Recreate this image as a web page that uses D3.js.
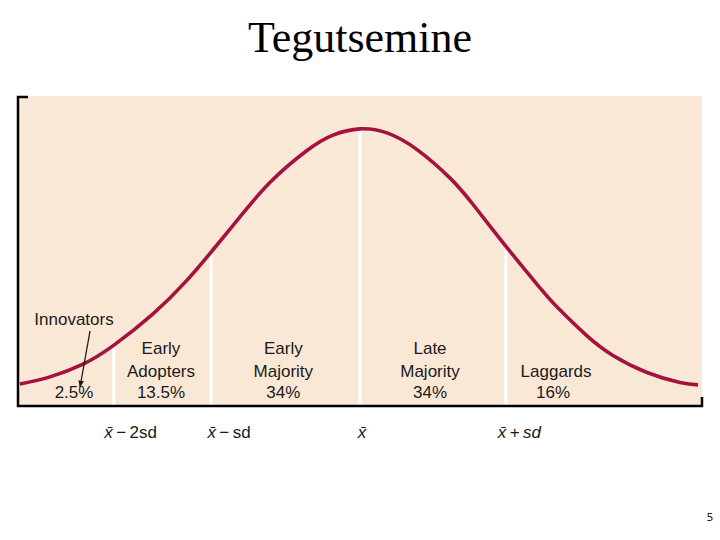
<!DOCTYPE html>
<html>
<head>
<meta charset="utf-8">
<script src="https://cdn.jsdelivr.net/npm/d3@7"></script>
<style>
  html, body { margin: 0; padding: 0; background: #ffffff; }
  svg { display: block; }
</style>
</head>
<body>
<svg id="chart" width="720" height="540"></svg>
<script>
// ---- data (x in standard-deviation units, y as relative curve height) ----
const curveX = [-2.307, -2.103, -1.879, -1.676, -1.404, -1.173, -1.004, -0.814, -0.611, -0.360, -0.183, 0.000,
                0.183, 0.387, 0.611, 0.767, 0.997, 1.221, 1.337, 1.540, 1.716, 1.947, 2.171, 2.293];
const curveY = [0.071, 0.094, 0.135, 0.194, 0.297, 0.406, 0.500, 0.610, 0.721, 0.824, 0.874, 0.894,
                0.881, 0.827, 0.735, 0.650, 0.511, 0.381, 0.319, 0.226, 0.163, 0.108, 0.076, 0.068];
const boundaries = [-1.67, -1.01, 0.00, 0.99];
const categories = [["Early", "Adopters"], ["Early", "Majority"], ["Late", "Majority"], ["Laggards"]];
const categoryX = [-1.35, -0.52, 0.475, 1.33];
const shares = ["13.5%", "34%", "34%", "16%"];
const shareX = [-1.35, -0.52, 0.475, 1.31];
const innovatorsLabel = "Innovators";
const innovatorsShare = "2.5%";
const innovatorsX = -1.94;
const tickLabels = [["\u2212\u20092sd", false], ["\u2212\u2009sd", false], ["", false], ["+\u2009", true]];
const tickX = [-1.735, -1.035, -0.015, 0.935];
const title = "Tegutsemine";
const pageNumber = "5";

// ---- layout ----
const svg = d3.select("#chart");
const panel = {left: 18, right: 702, top: 96, bottom: 406};
const x = d3.scaleLinear().domain([-2.32, 2.32]).range([panel.left, panel.right]);
const y = d3.scaleLinear().domain([0, 1]).range([panel.bottom, panel.top]);
const curveColor = "#a5123f";
const sans = "'Liberation Sans', Arial, Helvetica, sans-serif";

// title
svg.append("text")
  .attr("x", 360).attr("y", 52)
  .attr("text-anchor", "middle")
  .attr("font-family", "'Liberation Serif', 'Times New Roman', serif")
  .attr("font-size", 44)
  .attr("textLength", 224).attr("lengthAdjust", "spacingAndGlyphs")
  .attr("fill", "#000")
  .text(title);

// panel background
svg.append("rect")
  .attr("x", panel.left).attr("y", panel.top)
  .attr("width", panel.right - panel.left).attr("height", panel.bottom - panel.top)
  .attr("fill", "#fae8d7");

const pts = curveX.map((v, i) => [v, curveY[i]]);
const line = d3.line().x(d => x(d[0])).y(d => y(d[1])).curve(d3.curveNatural);

const curvePath = svg.append("path").datum(pts)
  .attr("d", line)
  .attr("fill", "none")
  .attr("stroke", "none");

// curve height at a given pixel x, sampled from the rendered path
function curveYAtPx(px) {
  const node = curvePath.node();
  const len = node.getTotalLength();
  let lo = 0, hi = len;
  for (let k = 0; k < 40; k++) {
    const mid = (lo + hi) / 2;
    if (node.getPointAtLength(mid).x < px) lo = mid; else hi = mid;
  }
  return node.getPointAtLength((lo + hi) / 2).y;
}

// white boundary lines from curve down to base
svg.append("g").selectAll("line").data(boundaries).join("line")
  .attr("x1", d => x(d)).attr("x2", d => x(d))
  .attr("y1", d => curveYAtPx(x(d))).attr("y2", panel.bottom)
  .attr("stroke", "#ffffff").attr("stroke-width", 3);

// visible curve
svg.append("path").datum(pts)
  .attr("d", line)
  .attr("fill", "none")
  .attr("stroke", curveColor)
  .attr("stroke-width", 3.6)
  .attr("stroke-linecap", "butt");

// axes frame
svg.append("path")
  .attr("d", `M${panel.left + 10},${panel.top + 1} H${panel.left} V${panel.bottom} H${panel.right} V${panel.bottom - 9}`)
  .attr("fill", "none").attr("stroke", "#000")
  .attr("stroke-width", 2.5);

// category labels
const labels = svg.append("g").attr("font-family", sans).attr("font-size", 17).attr("fill", "#1a1a1a").attr("text-anchor", "middle");
categories.forEach((lines, i) => {
  const t = labels.append("text").attr("x", x(categoryX[i])).attr("y", 377 - (lines.length - 1) * 23);
  lines.forEach((s, j) => t.append("tspan").attr("x", x(categoryX[i])).attr("dy", j === 0 ? 0 : 23).text(s));
  labels.append("text").attr("x", x(shareX[i])).attr("y", 398).text(shares[i]);
});
labels.append("text").attr("x", x(innovatorsX)).attr("y", 325).text(innovatorsLabel);
labels.append("text").attr("x", x(innovatorsX)).attr("y", 398).text(innovatorsShare);

// innovators arrow
svg.append("defs").append("marker")
  .attr("id", "arrow").attr("viewBox", "0 0 10 10").attr("refX", 9).attr("refY", 5)
  .attr("markerWidth", 7).attr("markerHeight", 7).attr("orient", "auto")
  .attr("markerUnits", "userSpaceOnUse")
  .append("path").attr("d", "M0,1 L10,5 L0,9 Z").attr("fill", "#1a1a1a");
svg.append("line")
  .attr("x1", x(innovatorsX) + 16).attr("y1", 331)
  .attr("x2", x(innovatorsX) + 6).attr("y2", 387)
  .attr("stroke", "#1a1a1a").attr("stroke-width", 1.3)
  .attr("marker-end", "url(#arrow)");

// x-axis labels (x-bar notation)
const tickG = svg.append("g").attr("font-family", sans).attr("font-size", 17).attr("fill", "#1a1a1a");
tickLabels.forEach((d, i) => {
  const t = tickG.append("text").attr("x", x(tickX[i])).attr("y", 438);
  t.append("tspan").attr("font-style", "italic").text("x\u0304");
  if (d[0]) {
    t.append("tspan").text("\u2009" + d[0]);
  }
  if (d[1]) {
    t.append("tspan").attr("font-style", "italic").text("sd");
  }
});

// page number
svg.append("text")
  .attr("x", 710).attr("y", 521)
  .attr("text-anchor", "middle")
  .attr("font-family", "'DejaVu Sans', sans-serif")
  .attr("font-size", 11)
  .attr("fill", "#222")
  .text(pageNumber);
</script>
</body>
</html>
